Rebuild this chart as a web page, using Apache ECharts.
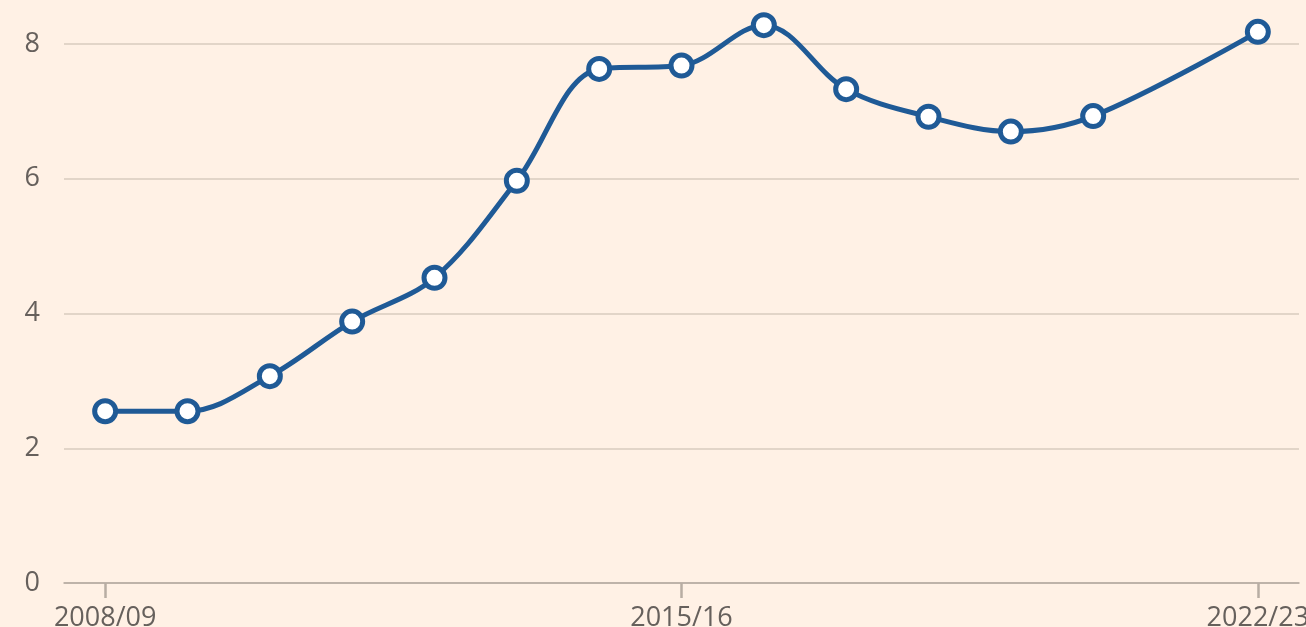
<!DOCTYPE html>
<html>
<head>
<meta charset="utf-8">
<script src="https://cdn.jsdelivr.net/npm/echarts@6/dist/echarts.min.js"></script>
<style>
  html, body { margin: 0; padding: 0; background: #fff1e5; }
  #chart { width: 1306px; height: 627px; }
</style>
</head>
<body>
<div id="chart"></div>
<script>
// season labels on the x axis
const seasons = ['2008/09', '2009/10', '2010/11', '2011/12', '2012/13', '2013/14', '2014/15',
    '2015/16', '2016/17', '2017/18', '2018/19', '2019/20', '2020/21', '2021/22', '2022/23'];
// values (2021/22 has no point)
const values = [2.55, 2.55, 3.07, 3.88, 4.53, 5.97, 7.63, 7.68, 8.28, 7.33, 6.92, 6.70, 6.93, null, 8.18];
const yTicks = [0, 2, 4, 6, 8];

const chart = echarts.init(document.getElementById('chart'));
const textColor = '#66605c';
const lineColor = '#1f5a96';

chart.setOption({
    backgroundColor: '#fff1e5',
    animation: false,
    grid: { left: 64, right: 7, top: 44, bottom: 44, containLabel: false, outerBoundsMode: 'none' },
    xAxis: {
        type: 'category',
        data: seasons,
        boundaryGap: true,
        axisLine: { lineStyle: { color: '#b3a89e', width: 1.5 } },
        axisTick: { show: true, interval: 6, alignWithLabel: true, length: 15, lineStyle: { color: '#b8ada3', width: 2.5 } },
        axisLabel: { interval: 6, color: textColor, fontSize: 27, fontFamily: 'Open Sans', margin: 22 }
    },
    yAxis: {
        type: 'value',
        min: yTicks[0],
        max: yTicks[yTicks.length - 1],
        interval: 2,
        axisLine: { show: false },
        axisTick: { show: false },
        axisLabel: { color: textColor, fontSize: 27, fontFamily: 'Open Sans', margin: 24 },
        splitLine: { lineStyle: { color: '#d9cbbe', width: 1.5 } }
    },
    series: [{
        type: 'line',
        data: values,
        connectNulls: true,
        clip: false,
        smooth: 0.35,
        symbol: 'circle',
        symbolSize: 21,
        lineStyle: { color: lineColor, width: 5 },
        itemStyle: { color: '#ffffff', borderColor: lineColor, borderWidth: 5 }
    }]
});
</script>
</body>
</html>
